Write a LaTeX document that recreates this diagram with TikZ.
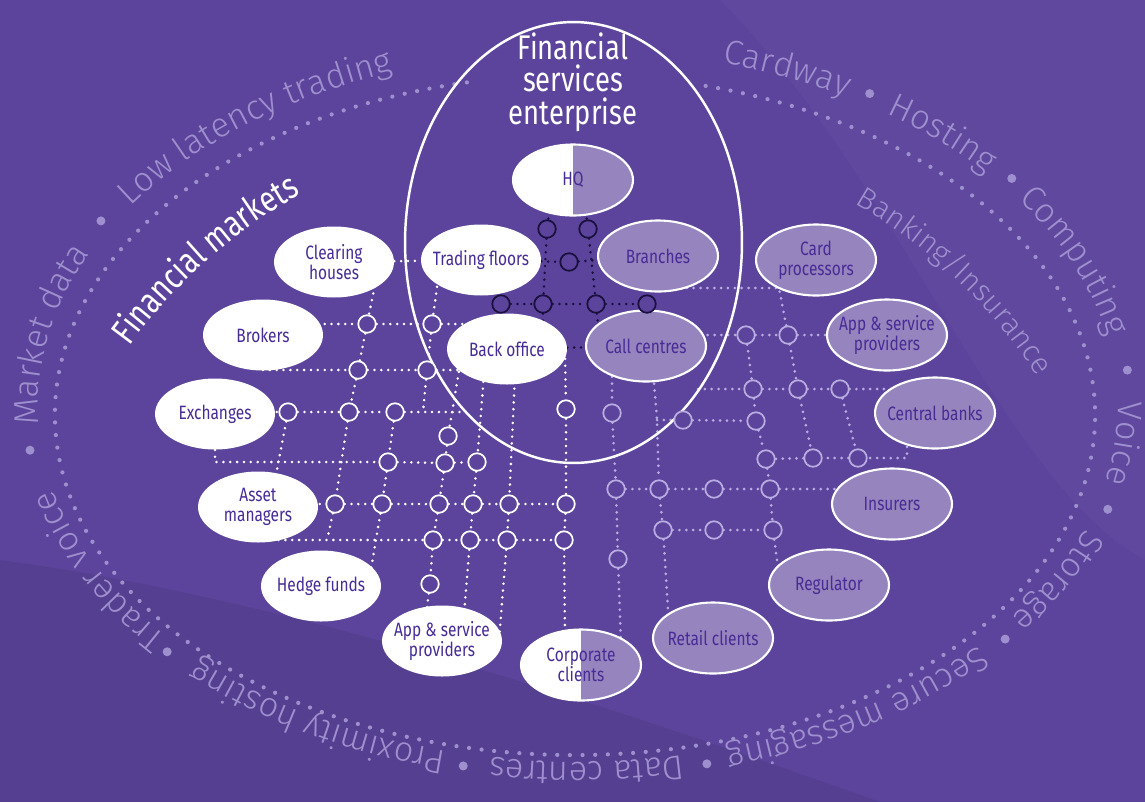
\documentclass[tikz,border=0pt]{standalone}
\usepackage{fontspec}
\setmainfont{Fira Sans}
\newfontfamily\nodefont{Fira Sans}[FakeStretch=0.8]
\newfontfamily\ringfont{Fira Sans Light}
\usetikzlibrary{shapes.geometric, decorations.text}

\definecolor{bgpurple}{RGB}{92,68,156}
\definecolor{lav}{RGB}{150,132,190}
\definecolor{nodetxt}{RGB}{72,44,150}
\definecolor{lavline}{RGB}{184,172,224}
\definecolor{darkline}{RGB}{26,16,62}
\definecolor{ringtxt}{RGB}{158,144,206}

\pgfdeclarelayer{back}
\pgfdeclarelayer{wires}
\pgfsetlayers{back,wires,main}

\newcommand{\ringfmt}{\ringfont\fontsize{19.5}{19.5}\selectfont\color{ringtxt}}
\newcommand{\ringword}[2]{%
  \path[decorate, decoration={text along path, text align=center, text={|\ringfmt|#2}}]
    (578,-406) ++(#1+32:540 and 356) arc[start angle=#1+32, end angle=#1-32, x radius=540, y radius=356];}

\tikzstyle{mkt}   = [ellipse, minimum width=2.4cm, minimum height=1.42cm, inner xsep=-8pt, inner ysep=0pt,
                     fill=white, text=nodetxt, align=center, font=\nodefont\fontsize{11}{11.2}\selectfont]
\tikzstyle{bank}  = [mkt, fill=lav, draw=white, line width=1.2pt]
\tikzstyle{both}  = [mkt, draw=white, line width=1.2pt,
                     path picture={\fill[lav] (path picture bounding box.north) rectangle (path picture bounding box.south east);}]
\tikzstyle{jw}    = [circle, draw=white, fill=bgpurple, line width=1pt, minimum size=0.35cm, inner sep=0pt]
\tikzstyle{jl}    = [jw, draw=lavline]
\tikzstyle{jd}    = [jw, draw=darkline]
\tikzstyle{wline} = [white, line width=1.6pt, line cap=round, dash pattern=on 0pt off 3.9pt]
\tikzstyle{lline} = [wline, lavline, line width=1.7pt]
\tikzstyle{dline} = [wline, darkline]
\tikzstyle{ringdots} = [ringtxt, line width=2.4pt, line cap=round, dash pattern=on 0pt off 7.2pt]

\begin{document}
\begin{tikzpicture}[x=0.02cm, y=-0.02cm]
  \useasboundingbox (0,0) rectangle (1145,802);

  \begin{pgfonlayer}{back}
    \fill[bgpurple] (0,0) rectangle (1145,802);
    \fill[black, opacity=0.07] (0,560) .. controls (300,600) and (650,720) .. (880,802) -- (0,802) -- cycle;
    \fill[white, opacity=0.025] (720,0) .. controls (900,180) and (1000,480) .. (1145,560) -- (1145,0) -- cycle;
    \begin{scope}[y=0.02cm]
      \ringword{130}{Low latency trading}
      \ringword{170}{Market data}
      \ringword{204.5}{Trader voice}
      \ringword{238.8}{Proximity hosting}
      \ringword{271}{Data centres}
      \ringword{303.8}{Secure messaging}
      \ringword{334.5}{Storage}
      \ringword{355}{Voice}
      \ringword{21}{Computing}
      \ringword{45}{Hosting}
      \ringword{65.5}{Cardway}
      \foreach \a in {149.8,186.9,221.9,258,283.5,320.7,343.7,5.6,38.2,58.1}
        \fill[ringtxt] (578,-406) ++(\a:552 and 368) circle[radius=4.5];
      \draw[ringdots] (575,-415) ++(102:520 and 340) arc[start angle=102, end angle=436, x radius=520, y radius=340];
      \path[decorate, decoration={text along path, text align=center,
          text={|\nodefont\fontsize{20.5}{20.5}\selectfont\color{white}|Financial markets}}]
        (560,-660) ++(152:533) arc[start angle=152, end angle=111, radius=533];
      \path[decorate, decoration={text along path, text align=center,
          text={|\ringfont\fontsize{17}{17}\selectfont\color{ringtxt}|Banking/Insurance}}]
        (590,-665) ++(66:532) arc[start angle=66, end angle=27, radius=532];
    \end{scope}
  \end{pgfonlayer}

  \node[ellipse, draw=white, line width=1.4pt, minimum width=6.74cm, minimum height=8.82cm, inner sep=0pt] (ent) at (573.5,242.5) {};
  \node[font=\nodefont\fontsize{19.5}{18.5}\selectfont, text=white, align=center] (ttl) at (573,82) {Financial\\services\\enterprise};

  \node[both] (hq)  at (573,180) {HQ};
  \node[mkt]  (tf)  at (481,260) {Trading floors};
  \node[bank] (br)  at (658,256) {Branches};
  \node[mkt]  (bo)  at (507,349) {Back office};
  \node[bank] (cc)  at (646,346) {Call centres};

  \node[mkt]  (ch)  at (334,262) {Clearing\\houses};
  \node[mkt]  (bk)  at (263,335) {Brokers};
  \node[mkt]  (ex)  at (215,414) {Exchanges};
  \node[mkt]  (am)  at (258,507) {Asset\\managers};
  \node[mkt]  (hf)  at (321,586) {Hedge funds};
  \node[mkt]  (apl) at (442,641) {App \& service\\providers};
  \node[both] (cor) at (581,665) {Corporate\\clients};

  \node[bank] (cp)  at (816,260) {Card\\processors};
  \node[bank] (apr) at (887,335) {App \& service\\providers};
  \node[bank] (cb)  at (935,413) {Central banks};
  \node[bank] (ins) at (892,504) {Insurers};
  \node[bank] (reg) at (829,585) {Regulator};
  \node[bank] (rc)  at (713,638) {Retail clients};

  \foreach \n/\x/\y in {m1/367/324, m2/432/324, m3/358/370, m4/427/370, m5/288/412, m6/349/412, m7/395/412,
      m8/448/436, m9/388/462, m10/445/463, m11/477/462, m12/335/504, m13/382/504, m14/439/504, m15/473/504,
      m16/509/504, m17/566/504, m18/433/540, m19/470/540, m20/507/540, m21/564/540, m22/430/584, m23/566/409}
    \node[jw] (\n) at (\x,\y) {};
  \foreach \n/\x/\y in {b1/788/335, b2/746/335, b3/753/389, b4/798/389, b5/840/389, b6/683/420, b7/756/421,
      b8/766/459, b9/813/458, b10/858/458, b11/616/489, b12/659/489, b13/714/489, b14/770/489,
      b15/663/530, b16/714/530, b17/773/530, b18/612/413, b19/618/559}
    \node[jl] (\n) at (\x,\y) {};
  \foreach \n/\x/\y in {e1/547/229, e2/588/229, e3/569/262, e4/501/304, e5/543/304, e6/596/304, e7/647/304}
    \node[jd] (\n) at (\x,\y) {};

  \coordinate (h4e) at (466,412);
  \coordinate (v1a) at (376,280);  \coordinate (v1b) at (327,540);
  \coordinate (v2a) at (438,280);  \coordinate (v2b) at (423,412);
  \coordinate (v3b) at (275,480);
  \coordinate (v4b) at (370,575);
  \coordinate (v5a) at (460,365);  \coordinate (v5b) at (426,615);
  \coordinate (v6a) at (484,375);  \coordinate (v6b) at (464,615);
  \coordinate (v7a) at (515,375);  \coordinate (v7b) at (499,640);
  \coordinate (v8a) at (565,352);  \coordinate (v8b) at (565,640);
  \coordinate (k0) at (680,288);   \coordinate (k1) at (779,288);
  \coordinate (k2) at (779,575);   \coordinate (k3) at (698,389);
  \coordinate (k4) at (657,420);   \coordinate (k5) at (907,440);
  \coordinate (k6) at (907,458);   \coordinate (k7) at (612,370);
  \coordinate (k8) at (621,645);   \coordinate (k9) at (653,370);
  \coordinate (k10) at (669,625);
  \coordinate (q1) at (550,205);   \coordinate (q2) at (543,330);
  \coordinate (q3) at (585,205);   \coordinate (q4) at (599,335);

  \begin{pgfonlayer}{wires}
    \draw[wline] (ch) -- (tf);
    \draw[wline] (bk |- m1) -- (m1) -- (m2) -- (bo |- m2);
    \draw[wline] (bk |- m3) -- (m3) -- (m4) -- (bo |- m4);
    \draw[wline] (ex |- m5) -- (m5) -- (m6) -- (m7) -- (h4e);
    \draw[wline] (ex) -- (ex |- m9) -- (m9) -- (m10) -- (m11);
    \draw[wline] (am |- m12) -- (m12) -- (m13) -- (m14) -- (m15) -- (m16) -- (m17);
    \draw[wline] (am |- m18) -- (m18) -- (m19) -- (m20) -- (m21);
    \draw[wline] (v1a) -- (m1) -- (m3) -- (m6) -- (m12) -- (v1b);
    \draw[wline] (v2a) -- (m2) -- (m4) -- (v2b);
    \draw[wline] (m5) -- (v3b);
    \draw[wline] (m7) -- (m9) -- (m13) -- (v4b);
    \draw[wline] (v5a) -- (m8) -- (m10) -- (m14) -- (m18) -- (m22) -- (v5b);
    \draw[wline] (v6a) -- (m11) -- (m15) -- (m19) -- (v6b);
    \draw[wline] (v7a) -- (m16) -- (m20) -- (v7b);
    \draw[wline] (v8a) -- (m23) -- (m17) -- (m21) -- (v8b);

    \draw[dline] (q1) -- (e1) -- (e5) -- (q2);
    \draw[dline] (q3) -- (e2) -- (e6) -- (q4);
    \draw[dline] (tf) -- (e3) -- (br);
    \draw[dline] (e4) -- (e5) -- (e6) -- (e7);
    \draw[dline] (bo) -- (cc);

    \draw[lline] (k0) -- (k1) -- (b1) -- (b4) -- (b9);
    \draw[lline] (cc |- b2) -- (b2) -- (b1) -- (apr |- b1);
    \draw[lline] (b2) -- (b3) -- (b7) -- (b8) -- (b14) -- (b17) -- (k2);
    \draw[lline] (k3) -- (b3) -- (b4) -- (b5) -- (cb |- b5);
    \draw[lline] (b5) -- (b10);
    \draw[lline] (k4) -- (b6) -- (b7);
    \draw[lline] (k5) -- (k6) -- (b10) -- (b9) -- (b8);
    \draw[lline] (b11) -- (b12) -- (b13) -- (b14) -- (ins |- b14);
    \draw[lline] (b15) -- (b16) -- (b17);
    \draw[lline] (k7) -- (b18) -- (b11) -- (b19) -- (k8);
    \draw[lline] (k9) -- (k4) -- (b12) -- (b15) -- (k10);
  \end{pgfonlayer}
\end{tikzpicture}
\end{document}
